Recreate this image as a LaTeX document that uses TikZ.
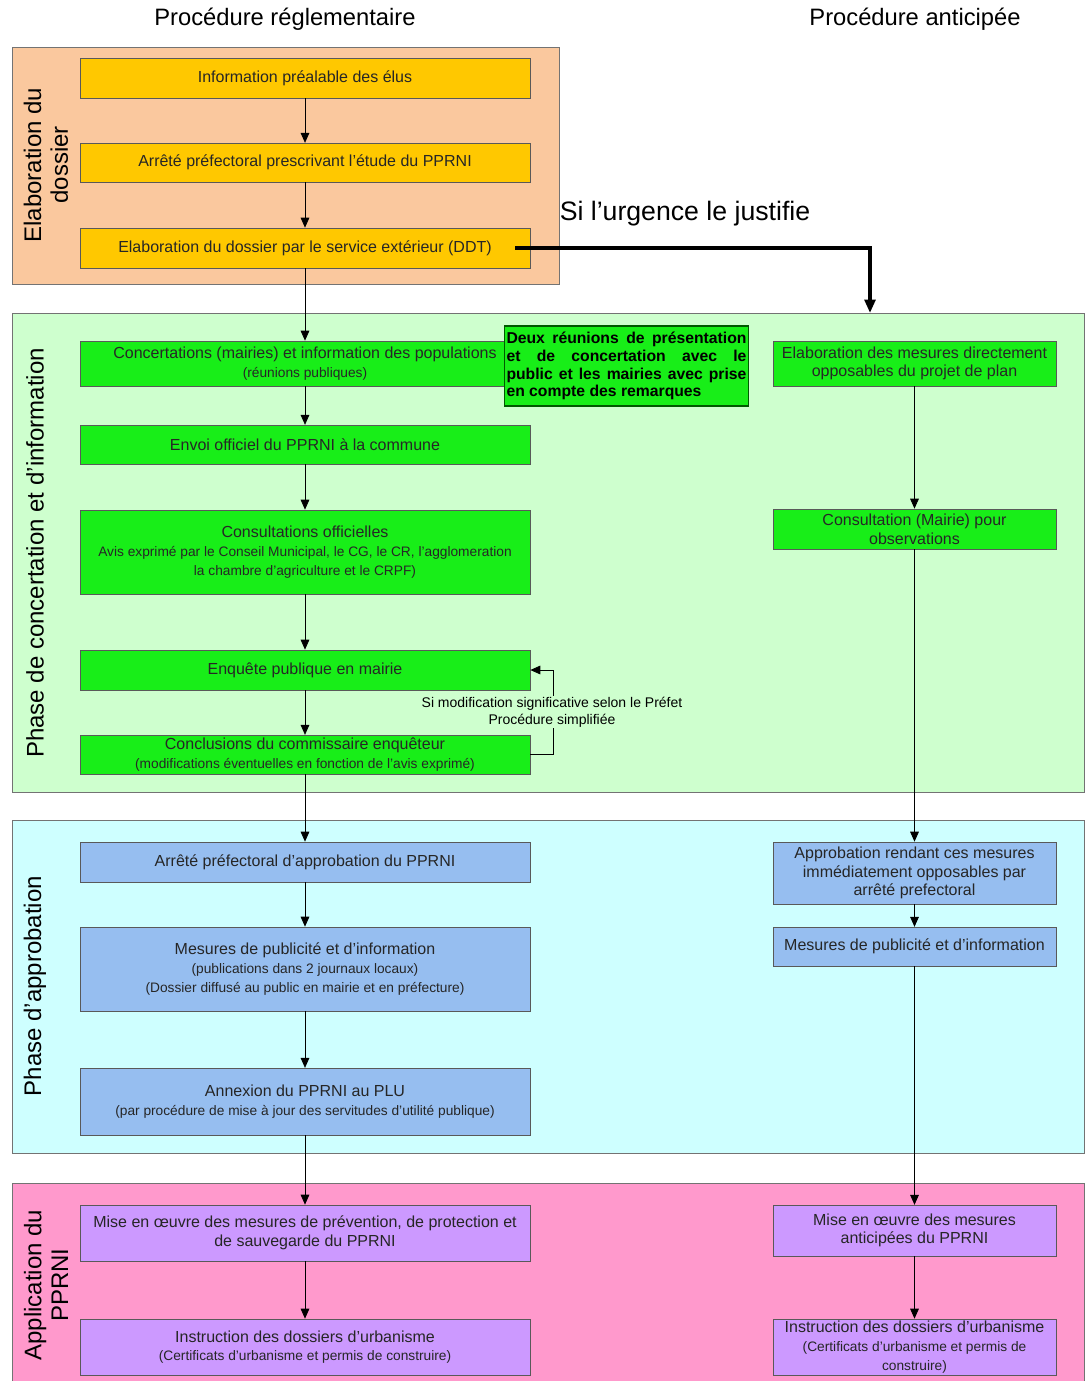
\documentclass[tikz,border=0pt]{standalone}
\usepackage{fontspec}
\setmainfont{Liberation Sans}
\usetikzlibrary{arrows.meta,positioning}

\definecolor{bandorange}{RGB}{250,200,158}
\definecolor{boxgold}{RGB}{255,200,0}
\definecolor{bandgreen}{RGB}{206,255,206}
\definecolor{boxgreen}{RGB}{24,238,24}
\definecolor{bandcyan}{RGB}{206,255,255}
\definecolor{boxblue}{RGB}{150,190,240}
\definecolor{bandpink}{RGB}{255,153,204}
\definecolor{boxlilac}{RGB}{204,153,255}

\newcommand{\detail}[1]{{\fontsize{10.3}{12.5}\selectfont #1}}

\begin{document}
\begin{tikzpicture}[x=0.75pt, y=-0.75pt,
    bande/.style={draw=black!55, line width=0.6pt},
    phase/.style={rotate=90, align=center, font=\fontsize{18}{20}\selectfont},
    titre/.style={font=\fontsize{17.8}{20}\selectfont},
    etape/.style={draw=black!65, line width=0.5pt, minimum width=337.5pt, inner sep=1pt, align=center, text=black!85, font=\fontsize{12}{14}\selectfont},
    anticipe/.style={etape, minimum width=212.25pt},
    remarque/.style={draw=green!35!black, line width=1.2pt, fill=boxgreen, text width=180pt, minimum height=60pt, inner sep=1.5pt, align=justify, font=\bfseries\fontsize{11.8}{13.4}\selectfont},
    fleche/.style={-{Triangle[length=7.5pt,width=6.5pt]}, line width=0.6pt},
    urgence/.style={-{Triangle[length=10pt,width=8pt]}, line width=2.6pt},
    ]
    \clip (0,0) rectangle (1088,1381);
    \fill[white] (0,0) rectangle (1088,1381);

    % titres des deux procedures
    \node[titre] (treg) at (285,19) {Procédure réglementaire};
    \node[titre] (tanti) at (915,19) {Procédure anticipée};

    % bandes des phases
    \draw[bande, fill=bandorange] (12,47) rectangle (559,284);
    \draw[bande, fill=bandgreen] (12,313) rectangle (1084,792);
    \draw[bande, fill=bandcyan] (12,820) rectangle (1084,1153);
    \draw[bande, fill=bandpink] (12,1183) rectangle (1084,1395);

    \node[phase] (lab1) at (46,165) {Elaboration du\\dossier};
    \node[phase] (lab2) at (35,553) {Phase de concertation et d’information};
    \node[phase] (lab3) at (35,986) {Phase d’approbation};
    \node[phase] (lab4) at (46,1285) {Application du\\PPRNI};

    % procedure reglementaire
    \node[etape, fill=boxgold, minimum height=30pt] (info) at (305,78) {Information préalable des élus};
    \node[etape, fill=boxgold, minimum height=29pt] (arrete) at (305,162.5) {Arrêté préfectoral prescrivant l’étude du PPRNI};
    \node[etape, fill=boxgold, minimum height=30pt] (elab) at (305,248) {Elaboration du dossier par le service extérieur (DDT)};

    \node[etape, fill=boxgreen, minimum height=33.75pt] (concert) at (305,363.5) {Concertations (mairies) et information des populations\\ \detail{(réunions publiques)}};
    \node[etape, fill=boxgreen, minimum height=29pt] (envoi) at (305,444.5) {Envoi officiel du PPRNI à la commune};
    \node[etape, fill=boxgreen, minimum height=63pt] (consult) at (305,552) {Consultations officielles\\ \detail{Avis exprimé par le Conseil Municipal, le CG, le CR, l’agglomeration}\\ \detail{la chambre d’agriculture et le CRPF)}};
    \node[etape, fill=boxgreen, minimum height=30pt] (enquete) at (305,670) {Enquête publique en mairie};
    \node[etape, fill=boxgreen, minimum height=29pt] (concl) at (305,754.5) {Conclusions du commissaire enquêteur\\ \detail{(modifications éventuelles en fonction de l’avis exprimé)}};

    \node[etape, fill=boxblue, minimum height=30pt] (approb) at (305,862) {Arrêté préfectoral d’approbation du PPRNI};
    \node[etape, fill=boxblue, minimum height=63pt] (pub) at (305,969) {Mesures de publicité et d’information\\ \detail{(publications dans 2 journaux locaux)}\\ \detail{(Dossier diffusé au public en mairie et en préfecture)}};
    \node[etape, fill=boxblue, minimum height=50pt] (annex) at (305,1101.5) {Annexion du PPRNI au PLU\\ \detail{(par procédure de mise à jour des servitudes d’utilité publique)}};

    \node[etape, fill=boxlilac, minimum height=42pt] (mise) at (305,1233) {Mise en œuvre des mesures de prévention, de protection et\\de sauvegarde du PPRNI};
    \node[etape, fill=boxlilac, minimum height=42pt] (instr) at (305,1347) {Instruction des dossiers d’urbanisme\\ \detail{(Certificats d’urbanisme et permis de construire)}};

    \node[remarque] (reunions) at (626.5,366) {Deux réunions de présentation\linebreak et de concertation avec le\linebreak public et les mairies avec prise\linebreak en compte des remarques};

    % procedure anticipee
    \node[anticipe, fill=boxgreen, minimum height=33.75pt] (relab) at (914.5,363.5) {Elaboration des mesures directement\\opposables du projet de plan};
    \node[anticipe, fill=boxgreen, minimum height=30pt] (rconsult) at (914.5,529) {Consultation (Mairie) pour\\observations};
    \node[anticipe, fill=boxblue, minimum height=46.5pt] (rapprob) at (914.5,873) {Approbation rendant ces mesures\\immédiatement opposables par\\arrêté prefectoral};
    \node[anticipe, fill=boxblue, minimum height=29pt] (rpub) at (914.5,946.5) {Mesures de publicité et d’information};
    \node[anticipe, fill=boxlilac, minimum height=38pt] (rmise) at (914.5,1230.5) {Mise en œuvre des mesures\\anticipées du PPRNI};
    \node[anticipe, fill=boxlilac, minimum height=42pt] (rinstr) at (914.5,1347) {Instruction des dossiers d’urbanisme\\ \detail{(Certificats d’urbanisme et permis de}\\ \detail{construire)}};

    % enchainements
    \draw[fleche] (info) -- (arrete);
    \draw[fleche] (arrete) -- (elab);
    \draw[fleche] (elab) -- (concert);
    \draw[fleche] (concert) -- (envoi);
    \draw[fleche] (envoi) -- (consult);
    \draw[fleche] (consult) -- (enquete);
    \draw[fleche] (enquete) -- (concl);
    \draw[fleche] (concl) -- (approb);
    \draw[fleche] (approb) -- (pub);
    \draw[fleche] (pub) -- (annex);
    \draw[fleche] (annex) -- (mise);
    \draw[fleche] (mise) -- (instr);

    \draw[fleche] (relab) -- (rconsult);
    \draw[fleche] (rconsult) -- (rapprob);
    \draw[fleche] (rapprob) -- (rpub);
    \draw[fleche] (rpub) -- (rmise);
    \draw[fleche] (rmise) -- (rinstr);

    % boucle de l'enquete
    \draw[fleche] (concl.east) -- ++(23,0) |- (enquete.east);
    \node[fill=bandgreen, inner sep=1pt, align=center, font=\fontsize{10.5}{12.75}\selectfont] (modif) at (552,712) {Si modification significative selon le Préfet\\Procédure simplifiée};

    % urgence
    \coordinate (urgfin) at (870,313);
    \draw[urgence] ([xshift=-11.25pt]elab.east) -| (urgfin);
    \node[font=\fontsize{20}{22}\selectfont] (urgtxt) at (685,214) {Si l’urgence le justifie};
\end{tikzpicture}
\end{document}
